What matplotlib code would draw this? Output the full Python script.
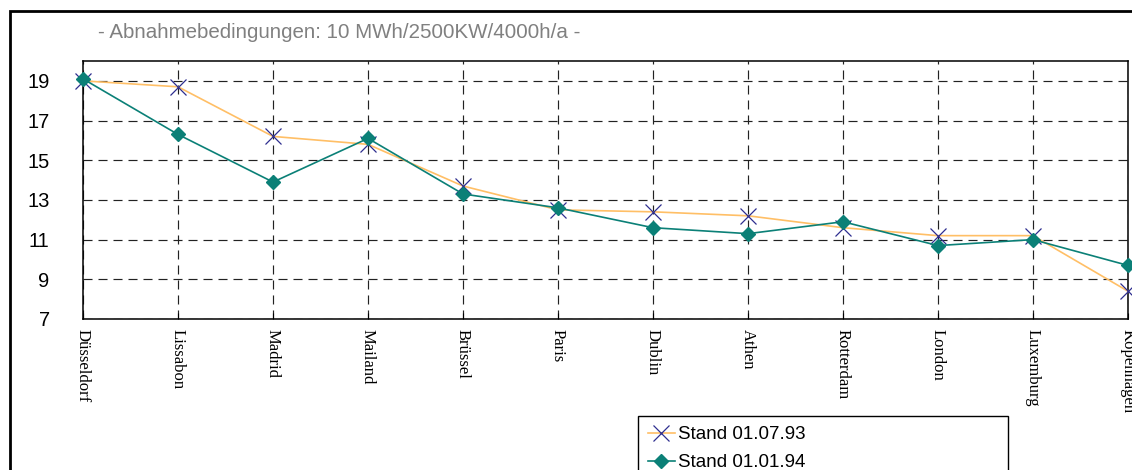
import numpy as np
import matplotlib
matplotlib.use('Agg')
from matplotlib import pyplot as plt
from matplotlib.patches import Rectangle

# data
cities = ['Düsseldorf', 'Lissabon', 'Madrid', 'Mailand', 'Brüssel', 'Paris',
          'Dublin', 'Athen', 'Rotterdam', 'London', 'Luxemburg', 'Kopenhagen']
stand_93 = [19.0, 18.7, 16.2, 15.8, 13.7, 12.5, 12.4, 12.2, 11.6, 11.2, 11.2, 8.4]
stand_94 = [19.1, 16.3, 13.9, 16.1, 13.3, 12.6, 11.6, 11.3, 11.9, 10.7, 11.0, 9.7]
y_ticks = [7, 9, 11, 13, 15, 17, 19]
title = '- Abnahmebedingungen: 10 MWh/2500KW/4000h/a -'

plt.rcParams['font.family'] = ['Liberation Sans', 'DejaVu Sans']
plt.rcParams['lines.scale_dashes'] = False

W, H = 1132, 470
fig = plt.figure(figsize=(W / 100, H / 100), dpi=100)
ax = fig.add_axes([83 / W, 1 - 319 / H, (1128 - 83) / W, (319 - 61) / H])

x = np.arange(len(cities))
l1, = ax.plot(x, stand_93, color='#ffbf66', lw=1.2, marker='x', markersize=11,
              markeredgecolor='#2e2e8f', markeredgewidth=0.9, clip_on=False, zorder=3)
l2, = ax.plot(x, stand_94, color='#0b8077', lw=1.2, marker='D', markersize=7,
              markerfacecolor='#0b8077', markeredgecolor='#0b8077', clip_on=False, zorder=4)

ax.set_xlim(0, len(cities) - 1)
ax.set_ylim(7, 20)
ax.set_xticks(x)
ax.set_xticklabels(cities, rotation=270, family='Liberation Serif', fontsize=12,
                   va='top', ha='center')
ax.set_yticks(y_ticks)
ax.tick_params(axis='y', length=0, pad=24, labelsize=14.5)
ax.tick_params(axis='x', direction='in', length=4, pad=7, color='black')
for lab in ax.get_yticklabels():
    lab.set_ha('right')

ax.grid(True, color='#222222', lw=0.85, linestyle=(0, (6.5, 4.3)))
for sp in ax.spines.values():
    sp.set_color('black')
    sp.set_linewidth(1.1)

fig.text(98 / W, 1 - 33 / H, title, color='#808080', fontsize=14.8, va='center', ha='left')

# outer frame (runs off right and bottom)
fig.patches.append(Rectangle((10 / W, -0.2), 2, 1.2 - 11 / H, transform=fig.transFigure,
                             fill=False, edgecolor='black', lw=2.0))

leg = fig.legend([l1, l2], ['Stand 01.07.93', 'Stand 01.01.94'], loc='upper left',
                 bbox_to_anchor=(638 / W, 0, 370 / W, 1 - 416 / H), mode='expand',
                 fontsize=13.5, numpoints=1, handlelength=1.4, handletextpad=0.2,
                 borderpad=0.55, labelspacing=0.57, fancybox=False, framealpha=1,
                 edgecolor='black', borderaxespad=0)
leg.get_frame().set_linewidth(1.0)

fig.savefig('out.png', dpi=100)
